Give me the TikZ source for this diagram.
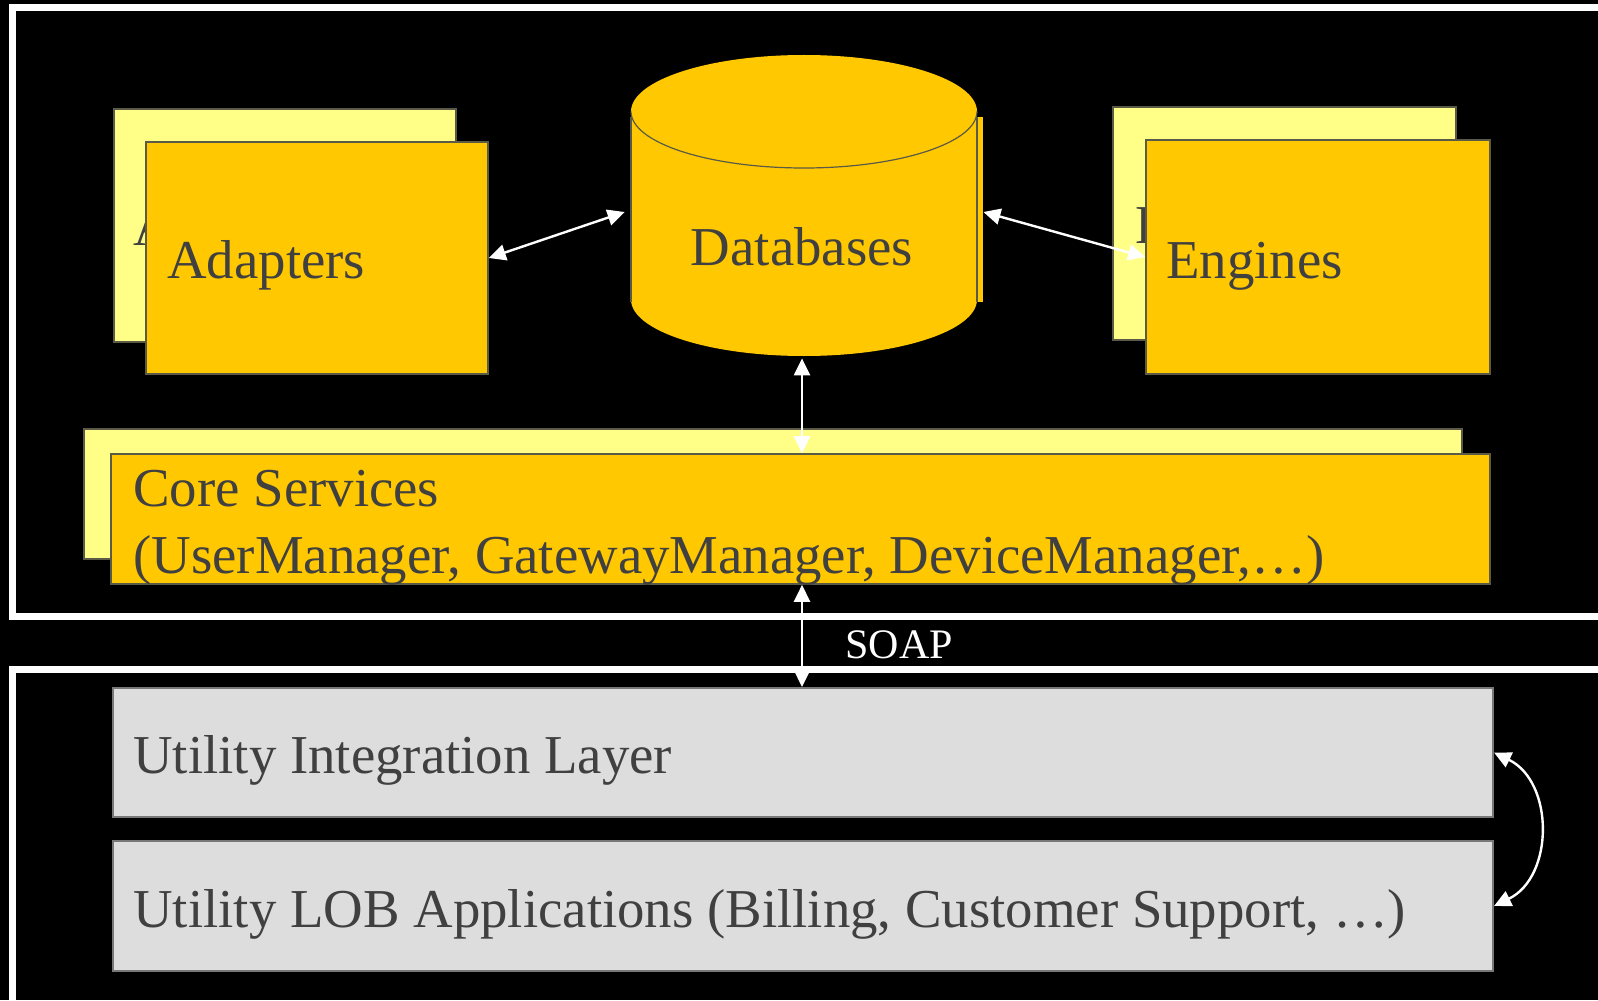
\documentclass[tikz,border=0pt]{standalone}
\usepackage{fontspec}
\setmainfont{Liberation Serif}
\usetikzlibrary{arrows.meta,calc}
\definecolor{yelF}{RGB}{255,200,0}
\definecolor{yelB}{RGB}{255,255,136}
\definecolor{boxline}{RGB}{90,90,70}
\definecolor{grayF}{RGB}{221,221,221}
\definecolor{grayL}{RGB}{120,120,120}
\definecolor{txtc}{RGB}{64,64,64}
\begin{document}
\begin{tikzpicture}[x=0.5pt,y=-0.5pt,
  frame/.style={draw=white,line width=3.5pt},
  front/.style={rectangle,draw=boxline,fill=yelF,line width=0.8pt,inner sep=0},
  back/.style={rectangle,draw=boxline,fill=yelB,line width=0.8pt,inner sep=0},
  layer/.style={rectangle,draw=grayL,fill=grayF,line width=1pt,inner sep=0},
  lbl/.style={anchor=base west,inner sep=0,text=txtc,font=\fontsize{27.4}{32}\selectfont},
  link/.style={draw=white,line width=1.2pt,{Triangle[length=8.5pt,width=8pt]}-{Triangle[length=8.5pt,width=8pt]}}
]
\fill[black] (0,0) rectangle (1598,1000);
\useasboundingbox (0,0) rectangle (1598,1000);
\begin{scope}
\clip (0,0) rectangle (1598,1000);
\draw[frame] (1620,8) -- (12,8) -- (12,616) -- (1620,616);
\draw[frame] (1620,669) -- (12,669) -- (12,1020);
\end{scope}

% Adapters
\node[back,minimum width=171pt,minimum height=116.5pt] (adB) at (285,225.5) {};
\node[lbl] (adBT) at (133,245) {Adapters};
\node[front,minimum width=171pt,minimum height=116pt] (adF) at (317,258) {};
\node[lbl] (adFT) at (167,278) {Adapters};

% Engines
\node[back,minimum width=171.5pt,minimum height=116.5pt] (enB) at (1284.5,223.5) {};
\node[lbl] (enBT) at (1135,243) {Engines};
\node[front,minimum width=172pt,minimum height=117pt] (enF) at (1318,257) {};
\node[lbl] (enFT) at (1166,278) {Engines};

% Databases cylinder
\fill[yelF] (804,111.5) ellipse [x radius=173, y radius=56.5];
\fill[yelF] (631,111.5) rectangle (977,299.5);
\fill[yelF] (804,299.5) ellipse [x radius=173, y radius=56.5];
\draw[boxline,line width=0.6pt] (977,111.5) arc[start angle=0,end angle=180,x radius=173,y radius=56.5];
\fill[yelF] (977,117) rectangle (983,302);
\draw[boxline,line width=0.8pt] (631,117) -- (631,302);
\draw[boxline,line width=0.8pt] (977,117) -- (977,302);
\node[inner sep=0,minimum width=173pt,minimum height=150.5pt] (db) at (804,205.5) {};
\node[anchor=base,inner sep=0,text=txtc,font=\fontsize{27.4}{32}\selectfont] (dbT) at (802,265) {Databases};

% Core services
\node[back,minimum width=689pt,minimum height=65pt] (coreB) at (773,494) {};
\node[front,minimum width=689.5pt,minimum height=65pt] (coreF) at (800.5,519) {};
\node[lbl] (coreT1) at (133,506) {Core Services};
\node[lbl] (coreT2) at (133,573) {(UserManager, GatewayManager, DeviceManager,…)};

% Utility layers
\node[layer,minimum width=690pt,minimum height=64.5pt] (utl) at (803,752.5) {};
\node[lbl] (utlT) at (133,773) {Utility Integration Layer};
\node[layer,minimum width=690pt,minimum height=65pt] (lob) at (803,906) {};
\node[lbl] (lobT) at (133,927) {Utility LOB Applications (Billing, Customer Support, …)};

% Connectors
\draw[link] (adF.east) -- ($(db.west)+(-6,6.5)$);
\draw[link] ($(db.east)+(6,6.5)$) -- (enF.west);
\coordinate (dbs) at ($(db.south)+(-2,2)$);
\draw[link] (dbs) -- (dbs |- coreF.north);
\coordinate (cs) at (coreF.south -| dbs);
\draw[link] (cs) -- (cs |- utl.north);
\node[anchor=base west,inner sep=0,text=white,font=\fontsize{21}{25}\selectfont] (soap) at (845,658) {SOAP};
\draw[link] (utl.east) to[bend left=64,looseness=1.12] (lob.east);
\end{tikzpicture}
\end{document}
